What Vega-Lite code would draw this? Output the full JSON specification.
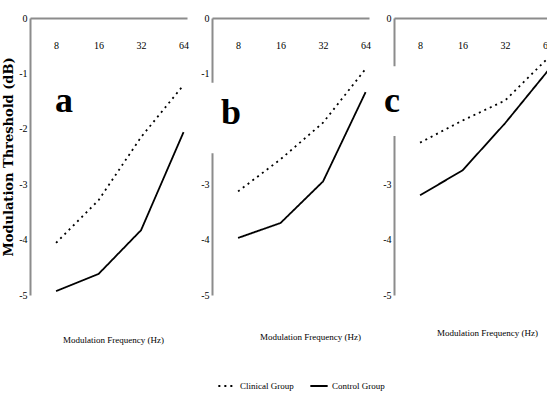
{
  "$schema": "https://vega.github.io/schema/vega-lite/v6.json",
  "background": "white",
  "padding": {"left": 2, "top": 13, "right": 0, "bottom": 0},
  "spacing": 25,
  "bounds": "flush",
  "datasets": {
    "series": [
      {"panel": "a", "group": "Clinical Group", "freq": 8, "threshold": -4.06},
      {"panel": "a", "group": "Clinical Group", "freq": 16, "threshold": -3.29},
      {"panel": "a", "group": "Clinical Group", "freq": 32, "threshold": -2.15},
      {"panel": "a", "group": "Clinical Group", "freq": 64, "threshold": -1.21},
      {"panel": "a", "group": "Control Group", "freq": 8, "threshold": -4.93},
      {"panel": "a", "group": "Control Group", "freq": 16, "threshold": -4.62},
      {"panel": "a", "group": "Control Group", "freq": 32, "threshold": -3.83},
      {"panel": "a", "group": "Control Group", "freq": 64, "threshold": -2.06},
      {"panel": "b", "group": "Clinical Group", "freq": 8, "threshold": -3.13},
      {"panel": "b", "group": "Clinical Group", "freq": 16, "threshold": -2.55},
      {"panel": "b", "group": "Clinical Group", "freq": 32, "threshold": -1.89},
      {"panel": "b", "group": "Clinical Group", "freq": 64, "threshold": -0.92},
      {"panel": "b", "group": "Control Group", "freq": 8, "threshold": -3.97},
      {"panel": "b", "group": "Control Group", "freq": 16, "threshold": -3.7},
      {"panel": "b", "group": "Control Group", "freq": 32, "threshold": -2.95},
      {"panel": "b", "group": "Control Group", "freq": 64, "threshold": -1.34},
      {"panel": "c", "group": "Clinical Group", "freq": 8, "threshold": -2.25},
      {"panel": "c", "group": "Clinical Group", "freq": 16, "threshold": -1.85},
      {"panel": "c", "group": "Clinical Group", "freq": 32, "threshold": -1.49},
      {"panel": "c", "group": "Clinical Group", "freq": 64, "threshold": -0.73},
      {"panel": "c", "group": "Control Group", "freq": 8, "threshold": -3.2},
      {"panel": "c", "group": "Control Group", "freq": 16, "threshold": -2.75},
      {"panel": "c", "group": "Control Group", "freq": 32, "threshold": -1.9},
      {"panel": "c", "group": "Control Group", "freq": 64, "threshold": -0.96}
    ],
    "letters": [
      {"panel": "a", "label": "a", "freq": 9.1, "threshold": -1.5},
      {"panel": "b", "label": "b", "freq": 7.13, "threshold": -1.72},
      {"panel": "c", "label": "c", "freq": 5.06, "threshold": -1.5}
    ],
    "boxes": [
      {"panel": "a", "f1": 5.77, "f2": 12.4, "t1": -0.94, "t2": -2.2},
      {"panel": "b", "f1": 4.25, "f2": 9.57, "t1": -1.17, "t2": -2.44},
      {"panel": "c", "f1": 3.45, "f2": 7.0, "t1": -0.87, "t2": -2.13}
    ]
  },
  "config": {
    "view": {"stroke": null},
    "font": "Liberation Serif",
    "axis": {
      "zindex": 0,
      "domainColor": "#8c8c8c",
      "domainWidth": 2,
      "ticks": false,
      "tickSize": 0,
      "grid": false,
      "labelFont": "Liberation Serif",
      "labelFontSize": 10,
      "labelColor": "black"
    },
    "title": {"font": "Liberation Serif", "fontSize": 9, "fontWeight": "normal", "color": "black"}
  },
  "resolve": {"scale": {"strokeDash": "shared"}},
  "hconcat": [
    {
      "width": 157, "height": 277,
      "title": {"text": "Modulation Frequency (Hz)", "orient": "bottom", "offset": 36, "dx": 5, "anchor": "middle"},
      "layer": [
        {
          "data": {"name": "boxes"},
          "transform": [{"filter": "datum.panel === 'a'"}],
          "mark": {"type": "rect", "fill": "white"},
          "encoding": {
            "x": {"field": "f1", "type": "quantitative", "scale": {"type": "log", "base": 2, "domain": [5.23, 67.7], "nice": false, "zero": false}, "axis": {"orient": "top", "values": [8, 16, 32, 64], "labelPadding": -27, "labelBaseline": "middle", "title": null, "labelFlush": false, "labelExpr": "'' + datum.value"}},
            "x2": {"field": "f2"},
            "y": {"field": "t1", "type": "quantitative", "scale": {"domain": [-5, 0], "nice": false, "zero": false}, "axis": {"values": [0, -1, -2, -3, -4, -5], "labelPadding": 3, "labelExpr": "'' + datum.value", "title": "Modulation Threshold (dB)", "titleFont": "DejaVu Serif", "titleFontWeight": "bold", "titleFontSize": 13, "titlePadding": 3, "titleColor": "black"}},
            "y2": {"field": "t2"}
          }
        },
        {
          "data": {"name": "series"},
          "transform": [{"filter": "datum.panel === 'a'"}],
          "mark": {"type": "line", "color": "black", "strokeWidth": 1.8},
          "encoding": {
            "x": {"field": "freq", "type": "quantitative"},
            "y": {"field": "threshold", "type": "quantitative"},
            "strokeDash": {"field": "group", "type": "nominal", "scale": {"domain": ["Clinical Group", "Control Group"], "range": [[2, 4], [1, 0]]}, "legend": {"orient": "none", "legendX": 187, "legendY": 358, "direction": "horizontal", "title": null, "symbolType": "stroke", "symbolSize": 300, "symbolStrokeWidth": 1.8, "symbolStrokeColor": "black", "labelFont": "Liberation Serif", "labelFontSize": 9, "labelColor": "black", "columnPadding": 12, "labelOffset": 3}}
          }
        },
        {
          "data": {"name": "letters"},
          "transform": [{"filter": "datum.panel === 'a'"}],
          "mark": {"type": "text", "font": "Liberation Serif", "fontSize": 36, "fontWeight": "bold", "baseline": "middle", "align": "center", "color": "black"},
          "encoding": {
            "x": {"field": "freq", "type": "quantitative"},
            "y": {"field": "threshold", "type": "quantitative"},
            "text": {"field": "label"}
          }
        }
      ]
    },
    {
      "width": 157, "height": 277,
      "title": {"text": "Modulation Frequency (Hz)", "orient": "bottom", "offset": 33, "dx": 20, "anchor": "middle"},
      "layer": [
        {
          "data": {"name": "boxes"},
          "transform": [{"filter": "datum.panel === 'b'"}],
          "mark": {"type": "rect", "fill": "white"},
          "encoding": {
            "x": {"field": "f1", "type": "quantitative", "scale": {"type": "log", "base": 2, "domain": [5.23, 67.7], "nice": false, "zero": false}, "axis": {"orient": "top", "values": [8, 16, 32, 64], "labelPadding": -27, "labelBaseline": "middle", "title": null, "labelFlush": false, "labelExpr": "'' + datum.value"}},
            "x2": {"field": "f2"},
            "y": {"field": "t1", "type": "quantitative", "scale": {"domain": [-5, 0], "nice": false, "zero": false}, "axis": {"values": [0, -1, -2, -3, -4, -5], "labelPadding": 3, "labelExpr": "'' + datum.value", "title": null}},
            "y2": {"field": "t2"}
          }
        },
        {
          "data": {"name": "series"},
          "transform": [{"filter": "datum.panel === 'b'"}],
          "mark": {"type": "line", "color": "black", "strokeWidth": 1.8},
          "encoding": {
            "x": {"field": "freq", "type": "quantitative"},
            "y": {"field": "threshold", "type": "quantitative"},
            "strokeDash": {"field": "group", "type": "nominal", "scale": {"domain": ["Clinical Group", "Control Group"], "range": [[2, 4], [1, 0]]}, "legend": {"orient": "none", "legendX": 187, "legendY": 358, "direction": "horizontal", "title": null, "symbolType": "stroke", "symbolSize": 300, "symbolStrokeWidth": 1.8, "symbolStrokeColor": "black", "labelFont": "Liberation Serif", "labelFontSize": 9, "labelColor": "black", "columnPadding": 12, "labelOffset": 3}}
          }
        },
        {
          "data": {"name": "letters"},
          "transform": [{"filter": "datum.panel === 'b'"}],
          "mark": {"type": "text", "font": "Liberation Serif", "fontSize": 36, "fontWeight": "bold", "baseline": "middle", "align": "center", "color": "black"},
          "encoding": {
            "x": {"field": "freq", "type": "quantitative"},
            "y": {"field": "threshold", "type": "quantitative"},
            "text": {"field": "label"}
          }
        }
      ]
    },
    {
      "width": 157, "height": 277,
      "title": {"text": "Modulation Frequency (Hz)", "orient": "bottom", "offset": 29, "dx": 15, "anchor": "middle"},
      "layer": [
        {
          "data": {"name": "boxes"},
          "transform": [{"filter": "datum.panel === 'c'"}],
          "mark": {"type": "rect", "fill": "white"},
          "encoding": {
            "x": {"field": "f1", "type": "quantitative", "scale": {"type": "log", "base": 2, "domain": [5.23, 67.7], "nice": false, "zero": false}, "axis": {"orient": "top", "values": [8, 16, 32, 64], "labelPadding": -27, "labelBaseline": "middle", "title": null, "labelFlush": false, "labelExpr": "'' + datum.value"}},
            "x2": {"field": "f2"},
            "y": {"field": "t1", "type": "quantitative", "scale": {"domain": [-5, 0], "nice": false, "zero": false}, "axis": {"values": [0, -1, -2, -3, -4, -5], "labelPadding": 3, "labelExpr": "'' + datum.value", "title": null}},
            "y2": {"field": "t2"}
          }
        },
        {
          "data": {"name": "series"},
          "transform": [{"filter": "datum.panel === 'c'"}],
          "mark": {"type": "line", "color": "black", "strokeWidth": 1.8},
          "encoding": {
            "x": {"field": "freq", "type": "quantitative"},
            "y": {"field": "threshold", "type": "quantitative"},
            "strokeDash": {"field": "group", "type": "nominal", "scale": {"domain": ["Clinical Group", "Control Group"], "range": [[2, 4], [1, 0]]}, "legend": {"orient": "none", "legendX": 187, "legendY": 358, "direction": "horizontal", "title": null, "symbolType": "stroke", "symbolSize": 300, "symbolStrokeWidth": 1.8, "symbolStrokeColor": "black", "labelFont": "Liberation Serif", "labelFontSize": 9, "labelColor": "black", "columnPadding": 12, "labelOffset": 3}}
          }
        },
        {
          "data": {"name": "letters"},
          "transform": [{"filter": "datum.panel === 'c'"}],
          "mark": {"type": "text", "font": "Liberation Serif", "fontSize": 36, "fontWeight": "bold", "baseline": "middle", "align": "center", "color": "black"},
          "encoding": {
            "x": {"field": "freq", "type": "quantitative"},
            "y": {"field": "threshold", "type": "quantitative"},
            "text": {"field": "label"}
          }
        }
      ]
    }
  ]
}
